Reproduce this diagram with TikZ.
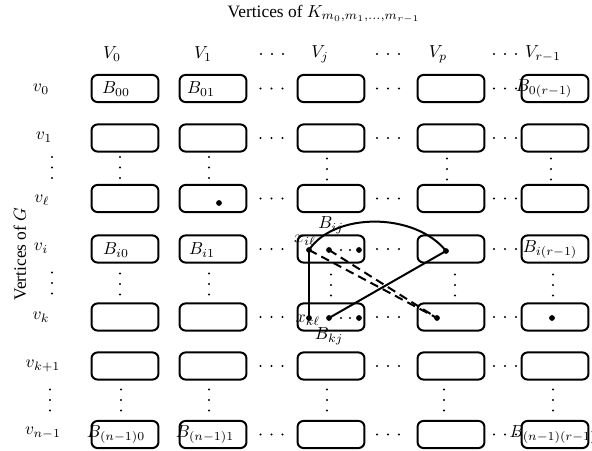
\documentclass[tikz,border=0pt]{standalone}
\usepackage{fontspec}
\setmainfont{Liberation Serif}
\begin{document}
\begin{tikzpicture}[x=0.575pt,y=-0.575pt,
  blk/.style={draw, line width=1.15pt, rounded corners=3.5pt, minimum width=38.5pt, minimum height=15.6pt, inner sep=0pt},
  pt/.style={circle, fill, inner sep=0pt, minimum size=3.3pt},
  edgeline/.style={line width=1.15pt},
  dedge/.style={line width=1.15pt, dash pattern=on 5pt off 3pt},
  lbl/.style={inner sep=0pt}]
\useasboundingbox (0,0) rectangle (592,451);
\newcommand\hdts[2]{\foreach \d in {-11,0,11}{\fill (#1+\d,#2) circle (0.6pt);}}
\newcommand\vdts[2]{\foreach \d in {-10.5,0,10.5}{\fill (#1,#2+\d) circle (0.6pt);}}
% title
\node (title) at (324,14) {Vertices of $K_{m_0,m_1,\ldots,m_{r-1}}$};
\node[rotate=90] (vg) at (20,254) {Vertices of $G$};
% headers
\node[lbl] (h0) at (112,54) {$V_0$};
\node[lbl] (h1) at (203,54) {$V_1$};
\node[lbl] (hj) at (320,54) {$V_j$};
\node[lbl] (hp) at (438,54) {$V_p$};
\node[lbl] (hr) at (543,54) {$V_{r-1}$};
\hdts{272}{54}\hdts{388}{54}\hdts{505}{54}
% row labels
\node[lbl] (r0) at (41,89) {$v_0$};
\node[lbl] (r1) at (44,137) {$v_1$};
\node[lbl] (rl) at (42,200) {$v_\ell$};
\node[lbl] (ri) at (41,248) {$v_i$};
\node[lbl] (rk) at (41,317) {$v_k$};
\node[lbl] (rk1) at (43,366) {$v_{k+1}$};
\node[lbl] (rn) at (43,433) {$v_{n-1}$};
\vdts{52}{167.5}\vdts{52}{283}\vdts{50}{400}
% boxes
\foreach \r/\y in {0/88.5,1/138,l/198.5,i/249,k/317,k1/366,n/434.5}{
  \foreach \c/\x in {0/125,1/213,j/331,p/451,r/555}{
    \node[blk] (b\r\c) at (\x,\y) {};
  }
  \hdts{271.5}{\y}\hdts{388}{\y}\hdts{505}{\y}
}
% vertical dots in columns
\vdts{120}{167.5}\vdts{209}{167.5}\vdts{327}{169}\vdts{447}{169}\vdts{551}{169}
\vdts{120}{284}\vdts{209}{284}\vdts{331}{285}\vdts{455}{285}\vdts{553}{285}
\vdts{121}{400}\vdts{209}{400}\vdts{327}{400}\vdts{444}{400}\vdts{553}{400}
% block labels
\node[lbl] (l00) at (116,89) {$B_{00}$};
\node[lbl] (l01) at (201,89) {$B_{01}$};
\node[lbl] (l0r) at (544,89) {$B_{0(r-1)}$};
\node[lbl] (li0) at (116,250) {$B_{i0}$};
\node[lbl] (li1) at (202,250) {$B_{i1}$};
\node[lbl] (lir) at (550,250) {$B_{i(r-1)}$};
\node[lbl] (ln0) at (116,435) {$B_{(n-1)0}$};
\node[lbl] (ln1) at (205,435) {$B_{(n-1)1}$};
\node[lbl] (lnr) at (553,435) {$B_{(n-1)(r-1)}$};
% points
\node[pt] (dl) at (219,203) {};
\node[pt] (xil) at (309,250) {};
\node[pt] (di2) at (329,250) {};
\node[pt] (di3) at (359,250) {};
\node[pt] (dip) at (446,251) {};
\node[pt] (xkl) at (309,318) {};
\node[pt] (dk2) at (329,318) {};
\node[pt] (dk3) at (359,318) {};
\node[pt] (dkp) at (437,318) {};
\node[pt] (dkr) at (552,318) {};
\fill (341,250) circle (0.6pt) (350,250) circle (0.6pt);
\fill (341,318) circle (0.6pt) (350,318) circle (0.6pt);
% point labels
\node[lbl] (lxil) at (305,240) {$x_{i\ell}$};
\node[lbl] (lbij) at (331,225) {$B_{ij}$};
\node[lbl] (lxkl) at (308,320) {$x_{k\ell}$};
\node[lbl] (lbkj) at (329,336) {$B_{kj}$};
% edges
\draw[edgeline] (xil.center) -- (xkl.center);
\draw[edgeline] (xil.center) .. controls (334,212) and (415,212) .. (dip.center);
\draw[edgeline] (dk2.center) -- (dip.center);
\draw[dedge] (xil.center) -- (dkp.center);
\draw[dedge] (di2.center) -- (dkp.center);
\end{tikzpicture}
\end{document}
